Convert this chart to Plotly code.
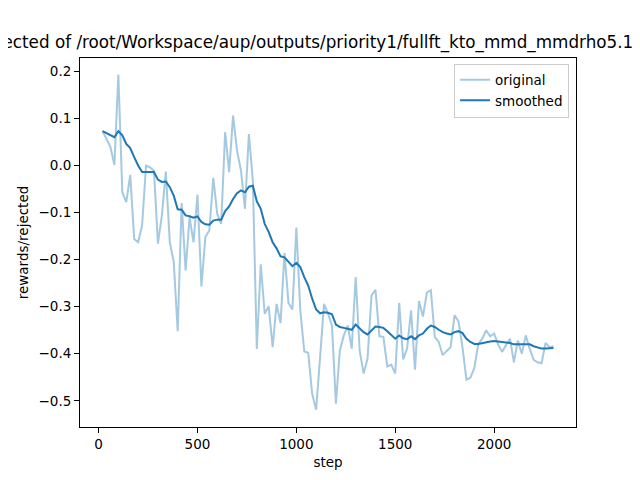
import plotly.graph_objects as go

# logged every 20 steps
steps = list(range(20, 2301, 20))

original = [
    0.073, 0.057, 0.039, 0.001, 0.193, -0.057, -0.078, -0.020, -0.156, -0.163,
    -0.127, 0.000, -0.004, -0.011, -0.166, -0.106, -0.013, -0.163, -0.205, -0.352,
    -0.080, -0.223, -0.110, -0.163, -0.062, -0.257, -0.152, -0.138, -0.026, -0.103,
    -0.124, 0.071, -0.014, 0.106, 0.032, -0.011, -0.092, 0.067, -0.032, -0.390,
    -0.210, -0.315, -0.299, -0.386, -0.294, -0.335, -0.186, -0.292, -0.306, -0.132,
    -0.308, -0.395, -0.398, -0.485, -0.519, -0.407, -0.294, -0.315, -0.340, -0.506,
    -0.393, -0.361, -0.340, -0.389, -0.237, -0.393, -0.442, -0.410, -0.276, -0.264,
    -0.363, -0.364, -0.427, -0.423, -0.442, -0.292, -0.412, -0.389, -0.308, -0.434,
    -0.288, -0.321, -0.270, -0.265, -0.364, -0.375, -0.403, -0.394, -0.386, -0.318,
    -0.331, -0.386, -0.455, -0.451, -0.430, -0.379, -0.368, -0.350, -0.363, -0.357,
    -0.380, -0.396, -0.382, -0.368, -0.418, -0.372, -0.400, -0.361, -0.389, -0.413,
    -0.418, -0.420, -0.377, -0.386, -0.384,
]

smoothed = [
    0.073, 0.069, 0.065, 0.060, 0.073, 0.064, 0.046, 0.037, 0.018, 0.000,
    -0.014, -0.014, -0.013, -0.014, -0.030, -0.035, -0.034, -0.046, -0.064, -0.093,
    -0.094, -0.106, -0.108, -0.111, -0.108, -0.120, -0.125, -0.126, -0.117, -0.115,
    -0.115, -0.097, -0.087, -0.071, -0.059, -0.053, -0.057, -0.045, -0.043, -0.076,
    -0.092, -0.124, -0.141, -0.163, -0.176, -0.193, -0.195, -0.205, -0.214, -0.207,
    -0.216, -0.237, -0.255, -0.283, -0.306, -0.314, -0.312, -0.313, -0.316, -0.338,
    -0.343, -0.345, -0.347, -0.349, -0.338, -0.347, -0.354, -0.359, -0.350, -0.342,
    -0.343, -0.345, -0.352, -0.361, -0.368, -0.361, -0.367, -0.369, -0.363, -0.369,
    -0.361, -0.357, -0.347, -0.340, -0.343, -0.349, -0.354, -0.357, -0.359, -0.354,
    -0.352, -0.356, -0.368, -0.375, -0.379, -0.379, -0.377, -0.376, -0.374, -0.373,
    -0.374, -0.375, -0.376, -0.377, -0.380, -0.380, -0.380, -0.379, -0.380, -0.384,
    -0.387, -0.389, -0.389, -0.388, -0.388,
]

title = "rewards/rejected of /root/Workspace/aup/outputs/priority1/fullft_kto_mmd_mmdrho5.1"

fig = go.Figure()
fig.add_trace(go.Scatter(x=steps, y=original, mode="lines", name="original",
                         line=dict(color="rgba(31,119,180,0.4)", width=2)))
fig.add_trace(go.Scatter(x=steps, y=smoothed, mode="lines", name="smoothed",
                         line=dict(color="#1f77b4", width=2)))

axis_style = dict(showline=True, linecolor="black", linewidth=1, mirror=True,
                  ticks="outside", ticklen=5, tickwidth=1, tickcolor="black",
                  showgrid=False, zeroline=False, automargin=False,
                  tickfont=dict(size=13.5, color="black"))

# the page body adds an 8px offset, so margins are shifted to compensate
fig.update_layout(
    width=640, height=480,
    margin=dict(l=72, r=72, t=50, b=61),
    paper_bgcolor="white", plot_bgcolor="white",
    font=dict(family="DejaVu Sans", color="black"),
    title=dict(text=title, xref="container", x=0.977, xanchor="right",
               yref="container", y=0.929, yanchor="middle",
               pad=dict(l=0, r=0, t=0, b=0),
               font=dict(size=16.8, color="black")),
    xaxis=dict(range=[-94, 2414], tickvals=[0, 500, 1000, 1500, 2000],
               title=dict(text="step", font=dict(size=13.5), standoff=6), **axis_style),
    yaxis=dict(range=[-0.5556, 0.2284], tick0=0, dtick=0.1, tickformat=".1f",
               title=dict(text="rewards/rejected", font=dict(size=13.5), standoff=6), **axis_style),
    legend=dict(x=0.986, y=0.985, xanchor="right", yanchor="top",
                bgcolor="rgba(255,255,255,0.8)", bordercolor="#cccccc", borderwidth=1,
                font=dict(size=13.5)),
    showlegend=True,
)

fig.write_html("out.html")
